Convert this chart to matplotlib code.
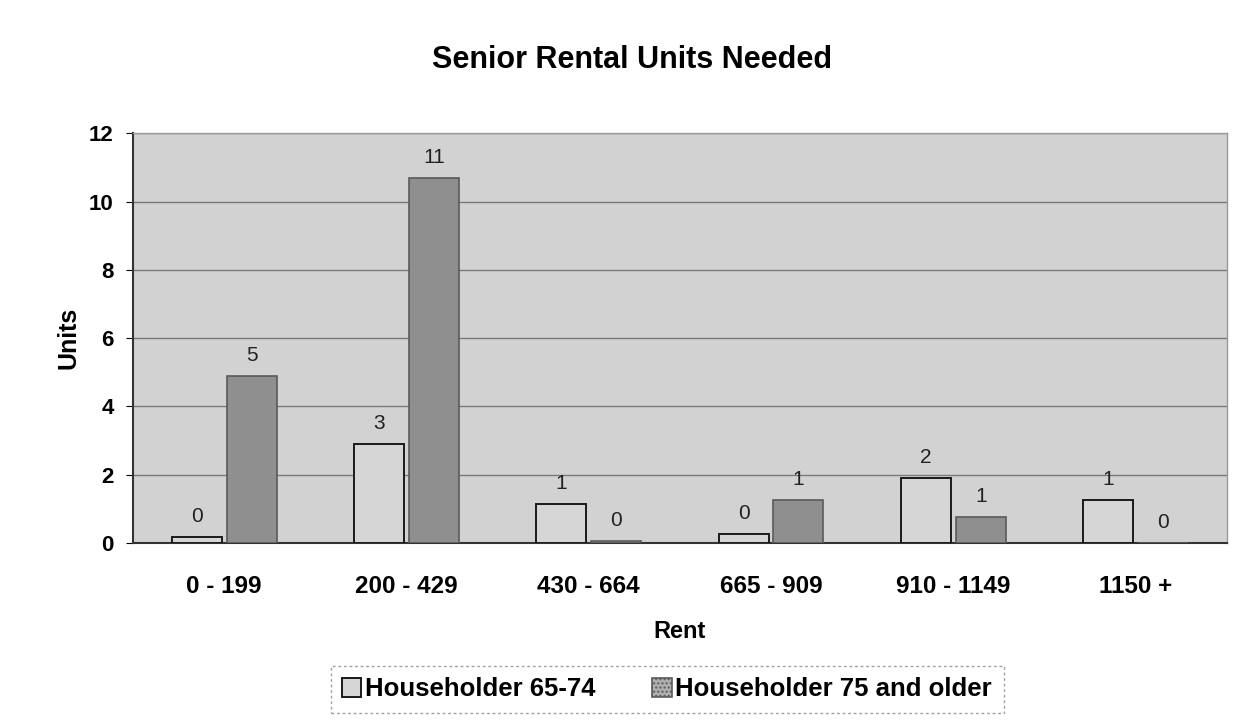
import matplotlib
matplotlib.use("Agg")
import matplotlib.pyplot as plt
import numpy as np

# rent brackets and units needed per householder age group
rent_bands = ["0 - 199", "200 - 429", "430 - 664", "665 - 909", "910 - 1149", "1150 +"]
units_65_74 = [0.17, 2.9, 1.15, 0.25, 1.9, 1.26]
units_75_plus = [4.9, 10.7, 0.05, 1.25, 0.76, 0.0]
series_names = ["Householder 65-74", "Householder 75 and older"]
y_ticks = [0, 2, 4, 6, 8, 10, 12]

plt.rcParams['font.family'] = ['Liberation Sans', 'DejaVu Sans']

fig = plt.figure(figsize=(12.47, 7.21), dpi=100)
ax = fig.add_axes([0.1067, 0.247, 0.877, 0.568])
ax.set_facecolor("#d2d2d2")

x = np.arange(len(rent_bands))
w = 0.275
gap = 0.013

bars_a = ax.bar(x - w / 2 - gap, units_65_74, width=w, color="#d6d6d6",
                edgecolor="#1a1a1a", linewidth=1.4, label=series_names[0], zorder=3)
bars_b = ax.bar(x + w / 2 + gap, units_75_plus, width=w, color="#8f8f8f",
                edgecolor="#5a5a5a", linewidth=1.2, label=series_names[1], zorder=3)

# value labels, rounded to whole units
for bars, vals in ((bars_a, units_65_74), (bars_b, units_75_plus)):
    for b, v in zip(bars, vals):
        ax.annotate(f"{v:.0f}", (b.get_x() + b.get_width() / 2, v),
                    xytext=(0, 8), textcoords="offset points",
                    ha="center", va="bottom", fontsize=15, color="#222222")

ax.set_xlim(-0.5, len(rent_bands) - 0.5)
ax.set_ylim(0, 12)
ax.set_yticks(y_ticks)
ax.set_xticks(x)
ax.set_xticklabels(rent_bands)
ax.tick_params(axis="x", length=0, pad=23, labelsize=17.5)
ax.tick_params(axis="y", length=5, direction="out", pad=9, labelsize=16)
for lbl in ax.get_xticklabels() + ax.get_yticklabels():
    lbl.set_fontweight("bold")

ax.yaxis.grid(True, color="#7a7a7a", linewidth=1.0, zorder=1)
ax.set_axisbelow(True)

for side in ("left", "bottom"):
    ax.spines[side].set_color("#333333")
    ax.spines[side].set_linewidth(1.5)
for side in ("top", "right"):
    ax.spines[side].set_color("#9a9a9a")
    ax.spines[side].set_linewidth(1.0)

ax.set_ylabel("Units", fontsize=18, fontweight="bold", labelpad=6)
ax.set_xlabel("Rent", fontsize=17, fontweight="bold", labelpad=16)
fig.suptitle("Senior Rental Units Needed", fontsize=22, fontweight="bold",
             x=0.507, y=0.937)

leg = fig.legend(loc="center", bbox_to_anchor=(0.535, 0.044), ncol=2,
                 frameon=True, prop={"weight": "bold", "size": 18.5},
                 handlelength=0.75, handleheight=0.75, handletextpad=0.15,
                 columnspacing=2.2, borderpad=0.15, borderaxespad=0)
leg.get_frame().set_edgecolor("#888888")
leg.get_frame().set_linestyle((0, (2, 2)))
leg.get_frame().set_boxstyle("square")
leg.legend_handles[1].set_hatch("....")
leg.legend_handles[1].set_facecolor("#b0b0b0")

fig.savefig("out.png", dpi=100)
